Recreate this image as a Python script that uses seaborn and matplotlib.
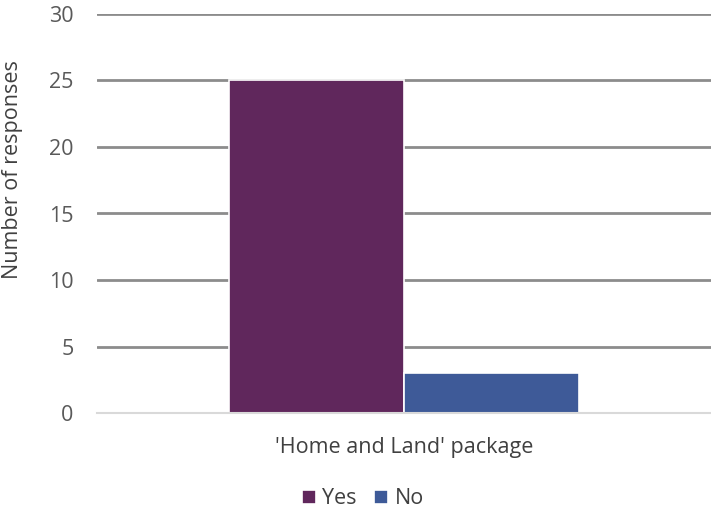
import matplotlib
matplotlib.use("Agg")
import matplotlib.pyplot as plt
import seaborn as sns
import pandas as pd

categories = ["'Home and Land' package"]
series = ["Yes", "No"]
yes_values = [25]
no_values = [3]
y_ticks = [0, 5, 10, 15, 20, 25, 30]
colors = ["#60275C", "#3E5A98"]

df = pd.DataFrame({
    "category": categories * 2,
    "series": ["Yes"] * len(categories) + ["No"] * len(categories),
    "value": yes_values + no_values,
})

sns.set_theme(style="white")
plt.rcParams["font.family"] = ["Open Sans", "DejaVu Sans"]

fig = plt.figure(figsize=(7.11, 5.11), dpi=100)
ax = fig.add_axes([97/711, 1 - 413/511, 1 - 97/711, (413 - 14)/511])

sns.barplot(data=df, x="category", y="value", hue="series", hue_order=series,
            palette=colors, width=0.57, edgecolor="white", linewidth=1.2,
            saturation=1, ax=ax, zorder=3)

ax.set_ylim(0, 30)
ax.set_yticks(y_ticks)
ax.set_xlim(-0.5, 0.5)
ax.yaxis.grid(True, color="#8C8C8C", linewidth=2, zorder=0)
ax.set_axisbelow(True)
for s in ["top", "right", "left"]:
    ax.spines[s].set_visible(False)
ax.spines["bottom"].set_color("#D9D9D9")
ax.spines["bottom"].set_linewidth(1.5)
ax.spines["bottom"].set_zorder(4)
ax.tick_params(axis="y", length=0, pad=17, labelsize=15.5, labelcolor="#595959")
ax.tick_params(axis="x", length=0, pad=0, labelsize=1)
ax.set_xticklabels([""])
ax.set_xlabel("")
ax.set_ylabel("Number of responses", fontsize=15.5, color="#404040")
ax.yaxis.set_label_coords(-0.12, 0.609)

fig.text(404/711, 1 - 447/511, categories[0], ha="center", va="center",
         fontsize=15.5, color="#404040")

leg = ax.legend(loc="center", bbox_to_anchor=(0.433, -0.215), ncol=2, frameon=False,
                fontsize=15.5, handlelength=0.65, handleheight=0.65, handletextpad=0.3,
                columnspacing=0.8, labelcolor="#404040")

fig.savefig("out.png", dpi=100)
